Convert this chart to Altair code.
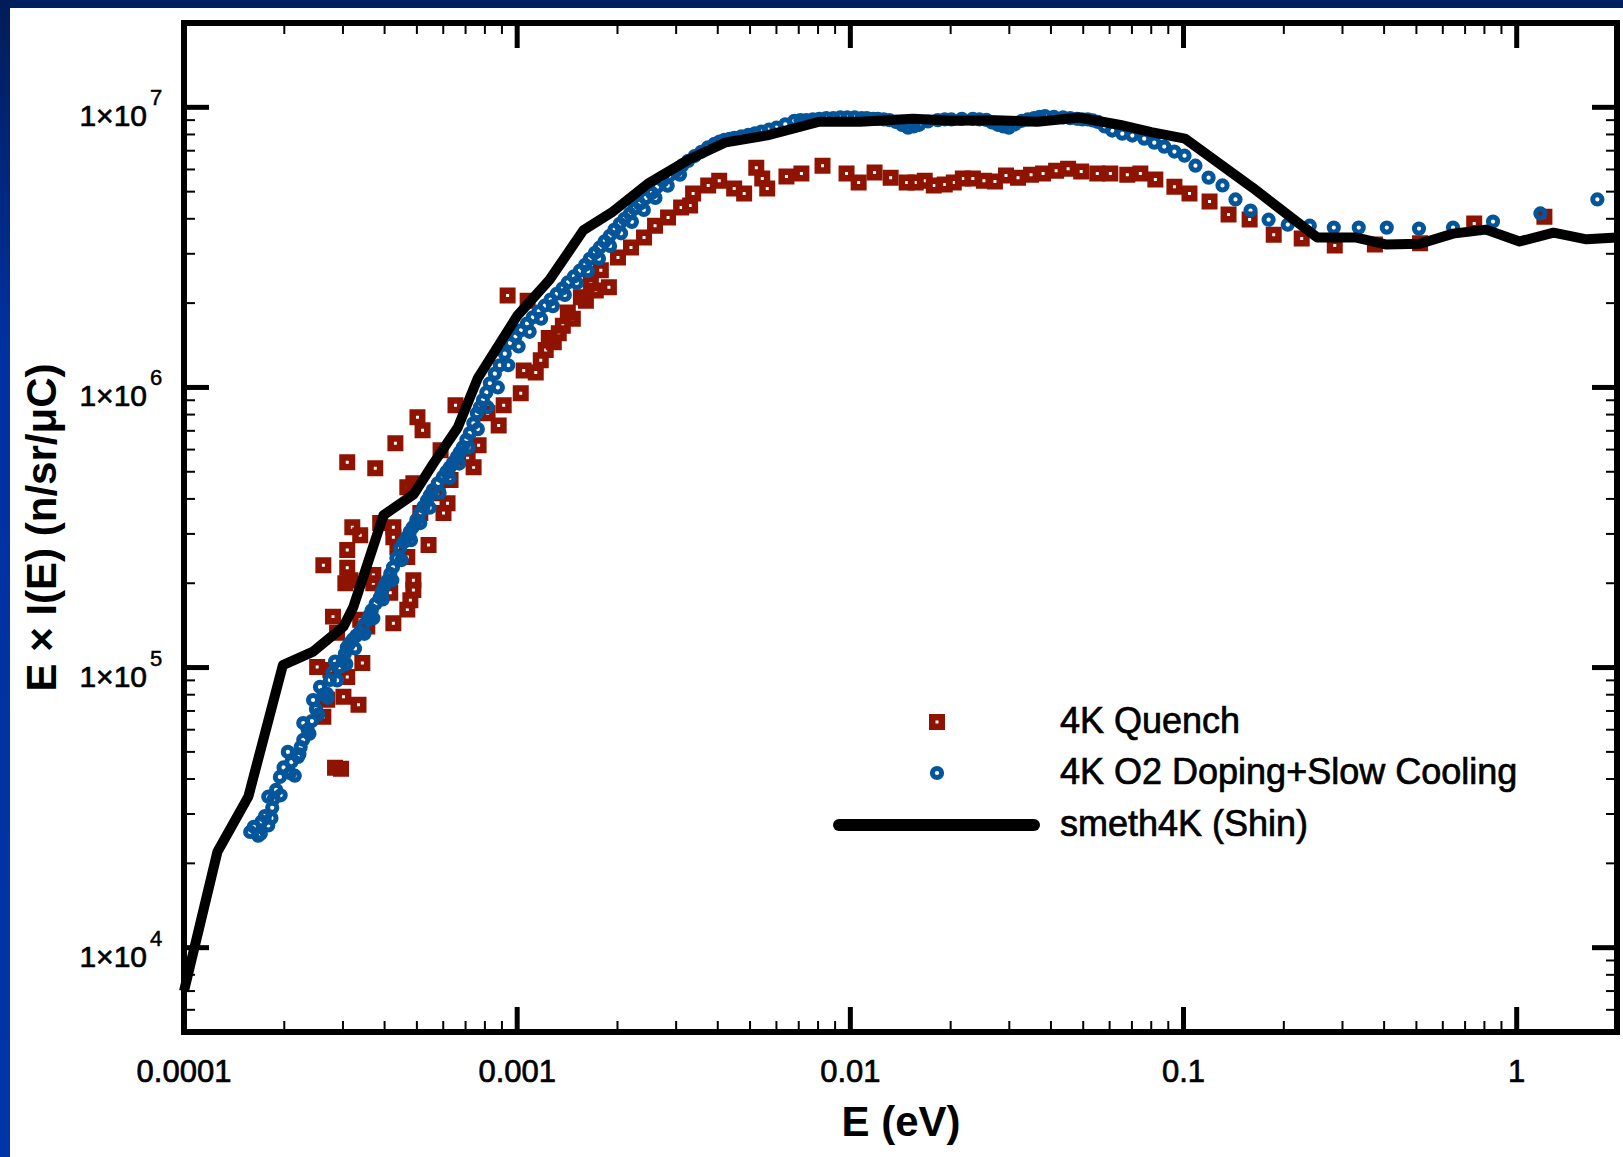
import altair as alt
import pandas as pd

# ---------------- data ----------------
series_names = ["4K Quench", "4K O2 Doping+Slow Cooling", "smeth4K (Shin)"]

quench_E = [2.84e-4, 2.96e-4, 2.51e-4, 2.62e-4, 2.75e-4, 2.80e-4, 2.88e-4, 2.62e-4, 2.69e-4, 3.01e-4,
            3.09e-4, 3.34e-4, 3.43e-4, 3.38e-4, 3.55e-4, 3.09e-4, 3.09e-4, 3.16e-4, 3.05e-4, 3.20e-4,
            3.38e-4, 3.09e-4, 3.75e-4, 3.70e-4, 3.70e-4, 3.88e-4, 4.25e-4, 4.25e-4, 4.16e-4, 4.25e-4,
            4.37e-4, 4.31e-4, 4.68e-4, 4.78e-4, 4.68e-4, 4.88e-4, 4.88e-4, 4.68e-4, 4.88e-4, 5.02e-4,
            5.20e-4, 5.12e-4, 5.42e-4, 5.77e-4, 5.89e-4, 6.01e-4, 6.18e-4, 6.31e-4, 6.53e-4, 7.10e-4,
            7.40e-4, 7.66e-4, 8.15e-4, 8.80e-4, 9.11e-4, 9.36e-4, 1.025e-3, 1.046e-3, 1.075e-3, 1.137e-3,
            1.177e-3, 1.218e-3, 1.244e-3, 1.288e-3, 1.333e-3, 1.371e-3, 1.419e-3, 1.469e-3, 1.553e-3, 1.608e-3,
            1.664e-3, 1.722e-3, 1.783e-3, 1.885e-3, 2.007e-3, 2.196e-3, 2.403e-3, 2.593e-3, 2.837e-3, 3.105e-3,
            3.304e-3, 3.373e-3, 3.744e-3, 4.04e-3, 4.48e-3, 4.80e-3, 5.22e-3, 5.44e-3, 5.63e-3, 6.43e-3,
            7.13e-3, 8.25e-3, 9.74e-3, 1.059e-2, 1.182e-2, 1.321e-2, 1.476e-2, 1.571e-2, 1.672e-2, 1.780e-2,
            1.920e-2, 2.044e-2, 2.176e-2, 2.332e-2, 2.517e-2, 2.716e-2, 2.932e-2, 3.186e-2, 3.486e-2, 3.788e-2,
            4.145e-2, 4.503e-2, 4.93e-2, 5.51e-2, 6.03e-2, 6.78e-2, 7.42e-2, 8.23e-2, 9.39e-2, 0.1042,
            0.1197, 0.1365, 0.1579, 0.1865, 0.2263, 0.2844, 0.3753, 0.5128, 0.7455, 1.211]
quench_Y = [4.39e4, 4.35e4, 1.005e5, 6.67e4, 9.81e4, 1.52e5, 1.33e5, 2.32e5, 7.67e4, 7.86e4,
            9.26e4, 7.36e4, 1.039e5, 1.48e5, 1.40e5, 2.63e5, 2.27e5, 2.05e5, 2.00e5, 3.17e5,
            2.97e5, 5.41e5, 5.15e5, 2.14e5, 2.00e5, 3.28e5, 3.17e5, 2.92e5, 1.85e5, 1.44e5,
            2.69e5, 6.32e5, 2.48e5, 1.74e5, 1.61e5, 2.05e5, 1.89e5, 4.40e5, 4.55e5, 7.83e5,
            7.03e5, 3.56e5, 2.74e5, 4.19e5, 5.97e5, 3.56e5, 3.86e5, 4.67e5, 8.64e5, 5.59e5,
            5.19e5, 6.22e5, 8.09e5, 7.32e5, 8.64e5, 2.13e6, 9.53e5, 1.15e6, 2.04e6, 1.13e6,
            1.25e6, 1.36e6, 1.50e6, 1.45e6, 1.56e6, 1.66e6, 1.85e6, 1.76e6, 2.10e6, 2.04e6,
            2.35e6, 2.22e6, 2.62e6, 2.28e6, 2.91e6, 3.16e6, 3.43e6, 3.78e6, 4.04e6, 4.39e6,
            4.46e6, 4.92e6, 5.26e6, 5.47e6, 5.13e6, 4.92e6, 6.09e6, 5.57e6, 5.13e6, 5.66e6,
            5.80e6, 6.19e6, 5.80e6, 5.39e6, 5.85e6, 5.61e6, 5.39e6, 5.39e6, 5.47e6, 5.26e6,
            5.30e6, 5.39e6, 5.57e6, 5.57e6, 5.47e6, 5.43e6, 5.71e6, 5.61e6, 5.75e6, 5.80e6,
            5.94e6, 6.04e6, 5.90e6, 5.80e6, 5.80e6, 5.75e6, 5.80e6, 5.52e6, 5.21e6, 4.92e6,
            4.61e6, 4.14e6, 3.98e6, 3.51e6, 3.40e6, 3.21e6, 3.24e6, 3.27e6, 3.85e6, 4.07e6]

doping_E = [1.58e-4, 1.67e-4, 1.71e-4, 1.79e-4, 1.84e-4, 1.79e-4, 1.89e-4, 1.94e-4, 2.05e-4, 2.15e-4,
            2.20e-4, 2.28e-4, 2.28e-4, 2.42e-4, 2.44e-4, 2.56e-4, 2.69e-4, 2.74e-4, 2.84e-4, 3.00e-4,
            3.08e-4, 3.21e-4, 3.37e-4, 3.56e-4, 3.66e-4, 3.87e-4, 3.98e-4, 4.09e-4, 4.24e-4, 4.45e-4,
            4.67e-4, 4.86e-4, 5.11e-4, 5.36e-4, 5.58e-4, 5.98e-4, 6.28e-4, 6.59e-4, 6.87e-4, 7.21e-4,
            7.57e-4, 7.89e-4, 8.28e-4, 8.87e-4, 9.51e-4, 1.026e-3, 1.114e-3, 1.211e-3, 1.315e-3, 1.419e-3,
            1.542e-3, 1.652e-3, 1.770e-3, 1.897e-3, 2.032e-3, 2.178e-3, 2.334e-3, 2.535e-3, 2.735e-3, 3.00e-3,
            3.26e-3, 3.57e-3, 3.91e-3, 4.19e-3, 4.49e-3, 4.94e-3, 5.41e-3, 6.00e-3, 6.79e-3, 7.38e-3,
            8.07e-3, 8.89e-3, 9.79e-3, 1.08e-2, 1.17e-2, 1.26e-2, 1.37e-2, 1.49e-2, 1.61e-2, 1.83e-2,
            2.01e-2, 2.33e-2, 2.56e-2, 2.77e-2, 2.99e-2, 3.27e-2, 3.56e-2, 3.84e-2, 4.35e-2, 4.79e-2,
            5.16e-2, 5.53e-2,
            1.62e-4, 1.75e-4, 1.86e-4, 1.99e-4, 2.10e-4, 2.24e-4, 2.35e-4, 2.49e-4, 2.62e-4, 2.79e-4,
            2.92e-4, 3.04e-4, 3.14e-4, 3.29e-4, 3.46e-4, 3.61e-4, 3.76e-4, 3.92e-4, 4.03e-4, 4.16e-4,
            4.34e-4, 4.56e-4, 4.76e-4, 4.98e-4, 5.23e-4, 5.47e-4, 5.78e-4, 6.13e-4, 6.43e-4, 6.73e-4,
            7.04e-4, 7.39e-4, 7.73e-4, 8.08e-4, 8.57e-4, 9.18e-4, 9.88e-4, 1.07e-3, 1.16e-3, 1.26e-3,
            1.37e-3, 1.48e-3, 1.60e-3, 1.71e-3, 1.83e-3, 1.96e-3, 2.10e-3, 2.25e-3, 2.43e-3, 2.63e-3,
            2.86e-3, 3.13e-3, 3.41e-3, 3.74e-3, 4.05e-3, 4.34e-3, 4.71e-3, 5.17e-3, 5.70e-3, 6.38e-3,
            7.08e-3, 7.72e-3, 8.47e-3, 9.33e-3, 1.03e-2, 1.12e-2, 1.21e-2, 1.31e-2, 1.43e-2, 1.55e-2,
            1.71e-2, 1.92e-2, 2.16e-2, 2.44e-2, 2.66e-2, 2.88e-2, 3.12e-2, 3.41e-2, 3.70e-2, 4.08e-2,
            4.57e-2, 4.97e-2, 5.34e-2, 5.80e-2,
            1.70e-4, 1.83e-4, 1.95e-4, 2.08e-4, 2.22e-4, 2.38e-4, 2.53e-4, 2.70e-4, 2.88e-4, 3.07e-4,
            3.26e-4, 3.48e-4, 3.70e-4, 3.95e-4, 4.22e-4, 4.50e-4, 4.80e-4, 5.12e-4, 5.46e-4, 5.85e-4,
            6.27e-4, 6.70e-4, 7.15e-4, 7.62e-4, 8.15e-4, 8.75e-4, 9.40e-4, 1.01e-3, 1.09e-3, 1.18e-3,
            1.28e-3, 1.39e-3, 1.51e-3, 1.63e-3, 1.76e-3, 1.90e-3, 2.05e-3, 2.21e-3, 2.40e-3, 2.60e-3,
            2.83e-3, 3.08e-3,
            0.0611, 0.0655, 0.0702, 0.0762, 0.0817, 0.0875, 0.0939, 0.1007, 0.1086, 0.1189,
            0.1309, 0.1432, 0.1589, 0.180, 0.2055, 0.2393, 0.2825, 0.3357, 0.4074, 0.509,
            0.644, 0.849, 1.178, 1.746]
doping_Y = [2.59e4, 2.51e4, 2.82e4, 2.73e4, 3.16e4, 3.46e4, 3.66e4, 4.07e4, 5.00e4, 4.11e4,
            4.80e4, 5.52e4, 6.34e4, 6.44e4, 7.66e4, 8.53e4, 8.05e4, 9.03e4, 1.05e5, 1.06e5,
            1.18e5, 1.26e5, 1.34e5, 1.48e5, 1.60e5, 1.78e5, 1.94e5, 2.05e5, 2.28e5, 2.67e5,
            2.92e5, 3.17e5, 3.56e5, 3.95e5, 4.30e5, 4.79e5, 5.19e5, 5.64e5, 6.12e5, 6.87e5,
            8.09e5, 9.02e5, 1.035e6, 1.20e6, 1.44e6, 1.60e6, 1.78e6, 1.96e6, 2.16e6, 2.37e6,
            2.61e6, 2.88e6, 3.16e6, 3.48e6, 3.84e6, 4.17e6, 4.53e6, 4.95e6, 5.47e6, 5.94e6,
            6.44e6, 6.94e6, 7.41e6, 7.66e6, 7.78e6, 7.98e6, 8.19e6, 8.46e6, 8.95e6, 9.00e6,
            9.10e6, 9.15e6, 9.20e6, 9.15e6, 9.10e6, 9.05e6, 8.87e6, 8.46e6, 8.66e6, 9.00e6,
            9.05e6, 9.10e6, 9.02e6, 8.66e6, 8.46e6, 8.95e6, 9.15e6, 9.30e6, 9.20e6, 9.10e6,
            9.05e6, 8.87e6,
            2.70e4, 2.95e4, 3.40e4, 4.40e4, 4.60e4, 5.20e4, 6.00e4, 7.10e4, 8.00e4, 9.60e4,
            1.00e5, 1.12e5, 1.22e5, 1.30e5, 1.41e5, 1.54e5, 1.69e5, 1.86e5, 2.00e5, 2.16e5,
            2.46e5, 2.80e5, 3.05e5, 3.36e5, 3.75e5, 4.12e5, 4.55e5, 5.00e5, 5.40e5, 5.87e5,
            6.50e5, 7.45e5, 8.50e5, 9.60e5, 1.12e6, 1.32e6, 1.52e6, 1.69e6, 1.87e6, 2.06e6,
            2.26e6, 2.49e6, 2.74e6, 3.02e6, 3.32e6, 3.66e6, 4.00e6, 4.35e6, 4.74e6, 5.20e6,
            5.70e6, 6.20e6, 6.70e6, 7.20e6, 7.55e6, 7.72e6, 7.88e6, 8.08e6, 8.32e6, 8.70e6,
            9.00e6, 9.05e6, 9.15e6, 9.20e6, 9.20e6, 9.15e6, 9.10e6, 9.00e6, 8.65e6, 8.55e6,
            8.90e6, 9.05e6, 9.10e6, 9.05e6, 8.83e6, 8.55e6, 8.70e6, 9.05e6, 9.25e6, 9.25e6,
            9.15e6, 9.05e6, 8.98e6, 8.55e6,
            2.55e4, 2.90e4, 3.50e4, 4.20e4, 4.90e4, 5.80e4, 6.80e4, 7.80e4, 9.00e4, 1.03e5,
            1.17e5, 1.32e5, 1.50e5, 1.75e5, 2.05e5, 2.42e5, 2.85e5, 3.28e5, 3.72e5, 4.20e5,
            4.75e5, 5.35e5, 6.10e5, 7.10e5, 8.50e5, 1.00e6, 1.20e6, 1.40e6, 1.58e6, 1.76e6,
            1.95e6, 2.14e6, 2.36e6, 2.60e6, 2.88e6, 3.20e6, 3.55e6, 3.90e6, 4.30e6, 4.75e6,
            5.25e6, 5.75e6,
            8.26e6, 8.05e6, 7.93e6, 7.73e6, 7.48e6, 7.24e6, 6.95e6, 6.72e6, 6.19e6, 5.61e6,
            5.26e6, 4.69e6, 4.28e6, 3.97e6, 3.81e6, 3.78e6, 3.72e6, 3.72e6, 3.72e6, 3.69e6,
            3.72e6, 3.91e6, 4.18e6, 4.69e6]

shin_E = [1.0e-4, 1.26e-4, 1.56e-4, 1.98e-4, 2.44e-4, 3.01e-4, 3.22e-4, 3.97e-4, 4.89e-4, 5.61e-4,
          6.63e-4, 7.62e-4, 1.0e-3, 1.25e-3, 1.58e-3, 1.92e-3, 2.47e-3, 3.29e-3, 4.23e-3, 5.63e-3,
          8.07e-3, 1.07e-2, 1.54e-2, 2.05e-2, 2.73e-2, 3.64e-2, 4.85e-2, 6.46e-2, 8.0e-2, 0.101,
          0.161, 0.252, 0.328, 0.404, 0.512, 0.644, 0.809, 1.02, 1.29, 1.62, 2.0]
shin_Y = [7000, 2.2e4, 3.46e4, 1.02e5, 1.14e5, 1.40e5, 1.64e5, 3.5e5, 4.15e5, 5.36e5,
          7.19e5, 1.08e6, 1.8e6, 2.42e6, 3.64e6, 4.21e6, 5.34e6, 6.53e6, 7.5e6, 7.94e6,
          8.88e6, 8.88e6, 9.1e6, 8.95e6, 9.0e6, 8.88e6, 9.2e6, 8.65e6, 8.15e6, 7.73e6,
          5.17e6, 3.43e6, 3.43e6, 3.24e6, 3.26e6, 3.54e6, 3.66e6, 3.32e6, 3.57e6, 3.38e6, 3.43e6]

# axis tick values and labels
x_major = [1e-4, 1e-3, 1e-2, 1e-1, 1]
x_tick_labels = ["0.0001", "0.001", "0.01", "0.1", "1"]
x_minor = [2e-4, 3e-4, 4e-4, 5e-4, 6e-4, 7e-4, 8e-4, 9e-4,
           2e-3, 3e-3, 4e-3, 5e-3, 6e-3, 7e-3, 8e-3, 9e-3,
           2e-2, 3e-2, 4e-2, 5e-2, 6e-2, 7e-2, 8e-2, 9e-2,
           0.2, 0.3, 0.4, 0.5, 0.6, 0.7, 0.8, 0.9]
y_major = [1e4, 1e5, 1e6, 1e7]
y_minor = [5e3, 6e3, 7e3, 8e3, 9e3,
           2e4, 3e4, 4e4, 5e4, 6e4, 7e4, 8e4, 9e4,
           2e5, 3e5, 4e5, 5e5, 6e5, 7e5, 8e5, 9e5,
           2e6, 3e6, 4e6, 5e6, 6e6, 7e6, 8e6, 9e6]
y_label_base = "1\u00d710"
y_label_exp = ["4", "5", "6", "7"]

# ---------------- styling ----------------
W, H = 1433, 1009
FONT = "Liberation Sans"
RED = "#8e1300"
BLUE = "#04559a"
TXT_STROKE = 0.7

XS = alt.Scale(type="log", domain=[1e-4, 2], nice=False)
YS = alt.Scale(type="log", domain=[5e3, 2e7], nice=False)
XAX = alt.Axis(values=x_major, labels=False, title="E (eV)", domain=False, ticks=False, tickSize=0,
               grid=False, titleFont=FONT, titleFontSize=42, titleFontWeight="bold", titleColor="black",
               titleY=103, titleBaseline="alphabetic", zindex=1)
YAX = alt.Axis(values=y_major, labels=False, domain=False, ticks=False, tickSize=0, grid=False,
               title="E \u00d7 I(E) (n/sr/\u03bcC)", titleFont=FONT, titleFontSize=42,
               titleFontWeight="bold", titleColor="black", titleX=-129, titleY=504,
               titleBaseline="alphabetic", titleAngle=270, zindex=1)


def X(f):
    return alt.X(f"{f}:Q", scale=XS, axis=XAX)


def Y(f):
    return alt.Y(f"{f}:Q", scale=YS, axis=YAX)


df_q = pd.DataFrame({"E": quench_E, "Y": quench_Y})
df_d = pd.DataFrame({"E": doping_E, "Y": doping_Y})
df_s = pd.DataFrame({"E": shin_E, "Y": shin_Y})
one = pd.DataFrame({"k": [0]})

# slide frame bands
grad = alt.LinearGradient(gradient="linear",
                          stops=[alt.GradientStop(offset=0, color="#001d5a"),
                                 alt.GradientStop(offset=0.3, color="#0031a0"),
                                 alt.GradientStop(offset=1, color="#0034a8")],
                          x1=0, x2=0, y1=0, y2=1)
band_top = alt.Chart(one).mark_rect(color="#001f5e").encode(
    x=alt.value(-184), x2=alt.value(W + 6), y=alt.value(-23), y2=alt.value(-15))
band_left = alt.Chart(one).mark_rect(color=grad).encode(
    x=alt.value(-184), x2=alt.value(-174), y=alt.value(-23), y2=alt.value(H + 125))

# ticks (inward, on all four sides)
df_xM = pd.DataFrame({"v": x_major, "lab": x_tick_labels})
df_xm = pd.DataFrame({"v": x_minor})
df_yM = pd.DataFrame({"v": y_major})
df_ym = pd.DataFrame({"v": y_minor})
ML, ml = 25, 11
ticks = [
    alt.Chart(df_xM).mark_rule(color="black", strokeWidth=5).encode(x=X("v"), y=alt.value(H), y2=alt.value(H - ML)),
    alt.Chart(df_xM).mark_rule(color="black", strokeWidth=5).encode(x=X("v"), y=alt.value(0), y2=alt.value(ML)),
    alt.Chart(df_xm).mark_rule(color="black", strokeWidth=2).encode(x=X("v"), y=alt.value(H), y2=alt.value(H - ml)),
    alt.Chart(df_xm).mark_rule(color="black", strokeWidth=2).encode(x=X("v"), y=alt.value(0), y2=alt.value(ml)),
    alt.Chart(df_yM).mark_rule(color="black", strokeWidth=5).encode(y=Y("v"), x=alt.value(0), x2=alt.value(ML)),
    alt.Chart(df_yM).mark_rule(color="black", strokeWidth=5).encode(y=Y("v"), x=alt.value(W), x2=alt.value(W - ML)),
    alt.Chart(df_ym).mark_rule(color="black", strokeWidth=2).encode(y=Y("v"), x=alt.value(0), x2=alt.value(ml)),
    alt.Chart(df_ym).mark_rule(color="black", strokeWidth=2).encode(y=Y("v"), x=alt.value(W), x2=alt.value(W - ml)),
]

# tick labels
xlab = alt.Chart(df_xM).mark_text(align="center", baseline="alphabetic", font=FONT, fontSize=31,
                                  color="black", stroke="black", strokeWidth=TXT_STROKE).encode(
    x=X("v"), y=alt.value(H + 50), text="lab:N")
df_ylab = pd.DataFrame({"v": y_major, "base": [y_label_base] * len(y_major), "exp": y_label_exp})
ylab_base = alt.Chart(df_ylab).mark_text(align="right", baseline="alphabetic", font=FONT, fontSize=30,
                                         color="black", stroke="black", strokeWidth=TXT_STROKE,
                                         dy=19).encode(
    y=Y("v"), x=alt.value(-37), text="base:N")
ylab_exp = alt.Chart(df_ylab).mark_text(align="left", baseline="alphabetic", font=FONT, fontSize=22,
                                        color="black", stroke="black", strokeWidth=0.5, dy=-2).encode(
    y=Y("v"), x=alt.value(-34), text="exp:N")

# data layers
red_pts = alt.Chart(df_q).mark_point(shape="square", filled=False, color=RED, strokeWidth=6.5,
                                     size=90, opacity=1).encode(x=X("E"), y=Y("Y"))
blue_pts = alt.Chart(df_d).mark_point(shape="circle", filled=False, color=BLUE, strokeWidth=5,
                                      size=85, opacity=1).encode(x=X("E"), y=Y("Y"))
black_line = alt.Chart(df_s).mark_line(color="black", strokeWidth=10, strokeJoin="round").encode(
    x=X("E"), y=Y("Y"), order="E:Q")

# legend
leg_red = alt.Chart(one).mark_point(shape="square", filled=False, color=RED, strokeWidth=6.5,
                                    size=90, opacity=1).encode(x=alt.value(753), y=alt.value(699))
leg_blue = alt.Chart(one).mark_point(shape="circle", filled=False, color=BLUE, strokeWidth=5,
                                     size=85, opacity=1).encode(x=alt.value(753), y=alt.value(750))
leg_line = alt.Chart(one).mark_rule(color="black", strokeWidth=12, strokeCap="round").encode(
    x=alt.value(655), x2=alt.value(850), y=alt.value(802))
leg_text = [
    alt.Chart(pd.DataFrame({"name": [series_names[i]]})).mark_text(
        align="left", baseline="middle", font=FONT, fontSize=36, color="black",
        stroke="black", strokeWidth=TXT_STROKE).encode(
        x=alt.value(876), y=alt.value(yy), text="name:N")
    for i, yy in enumerate([699, 750, 802])
]

chart = alt.layer(
    band_top, band_left,
    red_pts, blue_pts, black_line,
    *ticks,
    xlab, ylab_base, ylab_exp,
    leg_red, leg_blue, leg_line, *leg_text,
).properties(
    width=W, height=H,
    autosize=alt.AutoSizeParams(type="none"),
    padding={"left": 184, "top": 23, "right": 6, "bottom": 125},
    background="white",
).configure_view(stroke="black", strokeWidth=6)

chart.save("out.html", embed_options={"renderer": "svg", "actions": False})
